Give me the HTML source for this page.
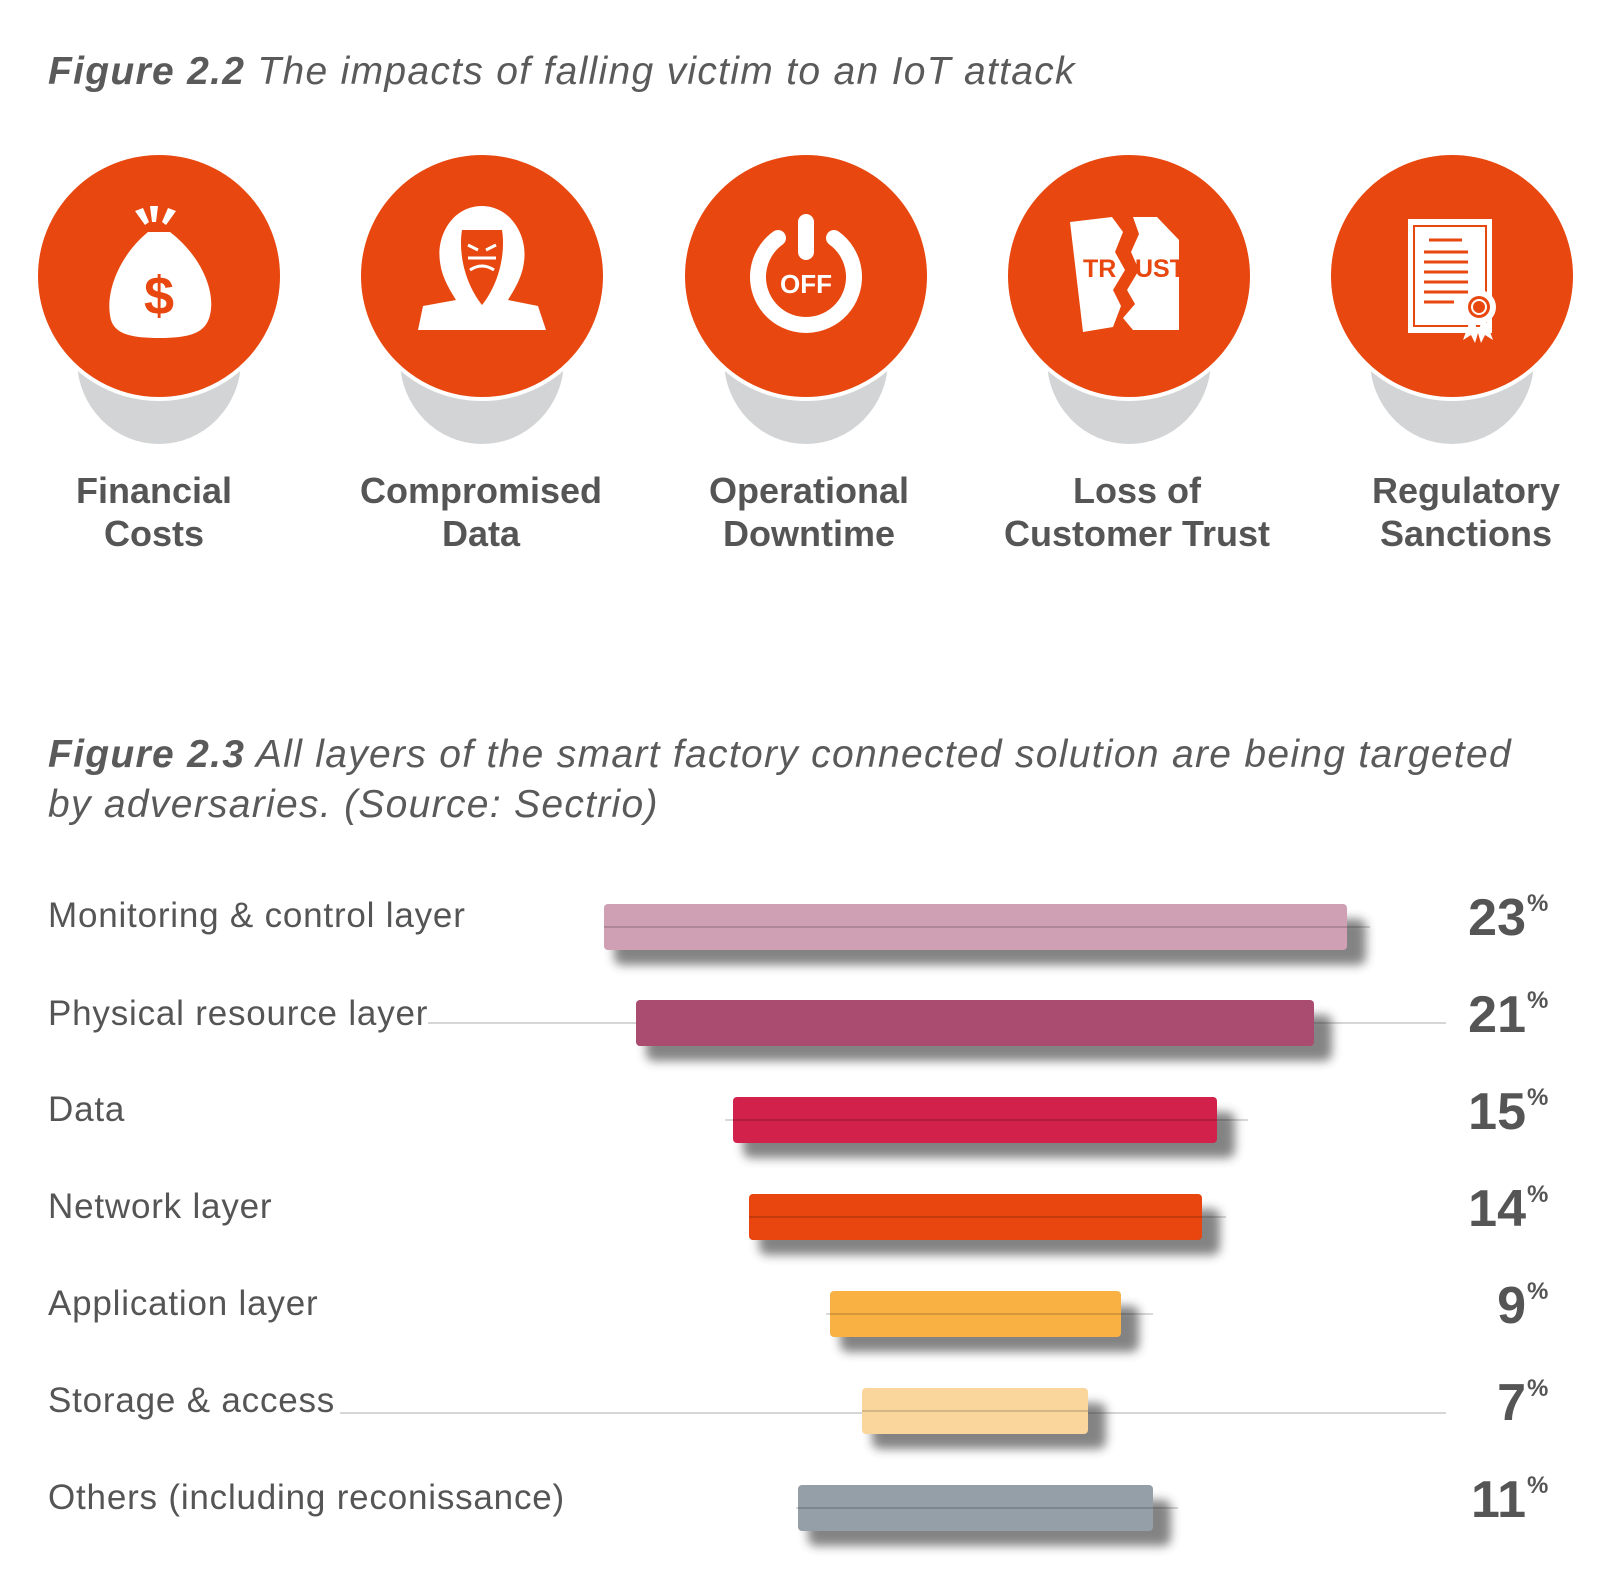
<!DOCTYPE html>
<html><head><meta charset="utf-8"><style>
html,body{margin:0;padding:0;background:#fff;}
svg{display:block;}
text{font-family:"Liberation Sans",sans-serif;}
</style></head><body>
<svg width="1613" height="1595" viewBox="0 0 1613 1595" xmlns="http://www.w3.org/2000/svg">
<defs>
<filter id="bs" x="-10%" y="-50%" width="130%" height="250%"><feGaussianBlur stdDeviation="5"/></filter>
</defs>
<text x="48" y="84" font-size="39" font-style="italic" fill="#5a5a5a" letter-spacing="1.3"><tspan font-weight="bold">Figure 2.2</tspan> The impacts of falling victim to an IoT attack</text>

<g fill="#d3d4d5">
<ellipse cx="159" cy="360" rx="82" ry="84"/>
<ellipse cx="482" cy="360" rx="82" ry="84"/>
<ellipse cx="806" cy="360" rx="82" ry="84"/>
<ellipse cx="1129" cy="360" rx="82" ry="84"/>
<ellipse cx="1452" cy="360" rx="82" ry="84"/>
</g>
<g fill="#e8470f" stroke="#fff" stroke-width="4">
<circle cx="159" cy="276" r="123"/>
<circle cx="482" cy="276" r="123"/>
<circle cx="806" cy="276" r="123"/>
<circle cx="1129" cy="276" r="123"/>
<circle cx="1452" cy="276" r="123"/>
</g>

<g fill="#fff">
<path d="M145 225 l-10 -14 l8 -3 l6 14 z M152 222 l-2 -16 h8 l-2 16z M162 222 l6 -14 l8 3 l-10 14z"/>
<path d="M148 232 h22 C200 255 216 290 210 315 C206 333 190 338 159 338 C128 338 112 333 110 315 C106 290 120 255 148 232z"/>
</g>
<text x="159" y="314" font-size="54" font-weight="bold" fill="#e8470f" text-anchor="middle">$</text>

<g transform="translate(-2,0)">
<path d="M484 206 C455 206 438 235 442 262 C444 278 452 290 458 300 L425 306 L420 330 H548 L540 306 L510 300 C516 290 524 278 526 262 C530 235 512 206 484 206z" fill="#fff"/>
<path d="M464 230 H504 C508 255 500 285 484 305 C468 285 460 255 464 230z" fill="#e8470f"/>
<g stroke="#fff" stroke-width="3" fill="none"><path d="M470 245 l10 5 M498 245 l-10 5 M470 258 h28 M472 270 q12 -8 24 0"/></g>
</g>

<g transform="translate(-4,0)">
<g fill="none" stroke="#fff" stroke-width="16" stroke-linecap="round">
<path d="M782 238 A48 48 0 1 0 838 238"/>
<path d="M810 222 V252"/>
</g>
<text x="810" y="293" font-size="26" font-weight="bold" fill="#fff" text-anchor="middle">OFF</text>
</g>

<g transform="translate(-5,0)">
<g fill="#fff">
<path d="M1075 222 L1117 217 L1128 232 L1120 252 L1130 270 L1118 290 L1126 306 L1118 327 L1088 332 z"/>
<path d="M1138 217 L1162 217 L1184 240 L1184 330 L1138 330 L1128 318 L1140 304 L1132 290 L1144 270 L1136 252 L1144 234 z"/>
</g>
<text x="1088" y="277" font-size="25" font-weight="bold" fill="#e8470f">TR</text>
<text x="1140" y="277" font-size="25" font-weight="bold" fill="#e8470f">UST</text>
</g>

<g transform="translate(-7,0)">
<rect x="1415" y="219" width="84" height="114" fill="#fff"/>
<rect x="1421" y="226" width="72" height="100" fill="none" stroke="#e8470f" stroke-width="2"/>
<g stroke="#e8470f" stroke-width="3"><path d="M1436 240h33 M1431 252h44 M1431 262h44 M1431 272h44 M1431 282h44 M1431 292h44 M1431 302h30"/></g>
<path d="M1478 318 l-8 22 l8 -5 l4 8 l6 -20z M1492 318 l8 22 l-8 -5 l-4 8 l-6 -20z" fill="#fff"/>
<circle cx="1486" cy="307" r="17" fill="#fff"/>
<circle cx="1486" cy="307" r="11" fill="#e8470f"/>
<circle cx="1486" cy="307" r="8" fill="#fff"/>
<circle cx="1486" cy="307" r="6" fill="#e8470f"/>
</g>

<g font-size="36" font-weight="bold" fill="#555" text-anchor="middle">
<text x="154" y="503">Financial</text><text x="154" y="546">Costs</text>
<text x="481" y="503">Compromised</text><text x="481" y="546">Data</text>
<text x="809" y="503">Operational</text><text x="809" y="546">Downtime</text>
<text x="1137" y="503">Loss of</text><text x="1137" y="546">Customer Trust</text>
<text x="1466" y="503">Regulatory</text><text x="1466" y="546">Sanctions</text>
</g>

<text x="48" y="767" font-size="39" font-style="italic" fill="#5a5a5a" letter-spacing="1.3"><tspan font-weight="bold">Figure 2.3</tspan> All layers of the smart factory connected solution are being targeted</text>
<text x="48" y="817" font-size="39" font-style="italic" fill="#5a5a5a" letter-spacing="1.3">by adversaries. (Source: Sectrio)</text>

<g transform="translate(0,-5)">
<g stroke="#c8c8c8" stroke-width="1.5">
<line x1="428" y1="1028" x2="1446" y2="1028"/>
<line x1="340" y1="1418" x2="1446" y2="1418"/>
</g>

<g font-size="35" fill="#555" letter-spacing="0.8">
<text x="48" y="932">Monitoring &amp; control layer</text>
<text x="48" y="1030">Physical resource layer</text>
<text x="48" y="1126">Data</text>
<text x="48" y="1223">Network layer</text>
<text x="48" y="1320">Application layer</text>
<text x="48" y="1417">Storage &amp; access</text>
<text x="48" y="1514">Others (including reconissance)</text>
</g>

<g fill="#333" opacity="0.6" filter="url(#bs)">
<rect x="614" y="924" width="752" height="46" rx="8"/>
<rect x="646" y="1020" width="686" height="46" rx="8"/>
<rect x="743" y="1117" width="492" height="46" rx="8"/>
<rect x="759" y="1214" width="461" height="46" rx="8"/>
<rect x="840" y="1311" width="299" height="46" rx="8"/>
<rect x="872" y="1408" width="234" height="46" rx="8"/>
<rect x="808" y="1505" width="363" height="46" rx="8"/>
</g>
<rect x="604" y="909" width="743" height="46" rx="4" fill="#cf9fb4"/>
<rect x="636" y="1005" width="678" height="46" rx="4" fill="#a94c6f"/>
<rect x="733" y="1102" width="484" height="46" rx="4" fill="#d2214b"/>
<rect x="749" y="1199" width="453" height="46" rx="4" fill="#e8450f"/>
<rect x="830" y="1296" width="291" height="46" rx="4" fill="#f8b142"/>
<rect x="862" y="1393" width="226" height="46" rx="4" fill="#fad69c"/>
<rect x="798" y="1490" width="355" height="46" rx="4" fill="#949fa8"/>
<g stroke="#000" stroke-opacity="0.15" stroke-width="2">
<line x1="604" y1="932" x2="1370" y2="932"/>
<line x1="725" y1="1125" x2="1248" y2="1125"/>
<line x1="749" y1="1222" x2="1226" y2="1222"/>
<line x1="826" y1="1319" x2="1153" y2="1319"/>
<line x1="862" y1="1416" x2="1088" y2="1416"/>
<line x1="796" y1="1513" x2="1178" y2="1513"/>
</g>

<g font-size="52" font-weight="bold" fill="#555" text-anchor="end">
<text x="1526" y="940">23</text>
<text x="1526" y="1037">21</text>
<text x="1526" y="1134">15</text>
<text x="1526" y="1231">14</text>
<text x="1526" y="1328">9</text>
<text x="1526" y="1425">7</text>
<text x="1526" y="1522">11</text>
</g>
<g font-size="24" font-weight="bold" fill="#555">
<text x="1527" y="916">%</text>
<text x="1527" y="1013">%</text>
<text x="1527" y="1110">%</text>
<text x="1527" y="1207">%</text>
<text x="1527" y="1304">%</text>
<text x="1527" y="1401">%</text>
<text x="1527" y="1498">%</text>
</g>
</g>
</svg>
</body></html>
